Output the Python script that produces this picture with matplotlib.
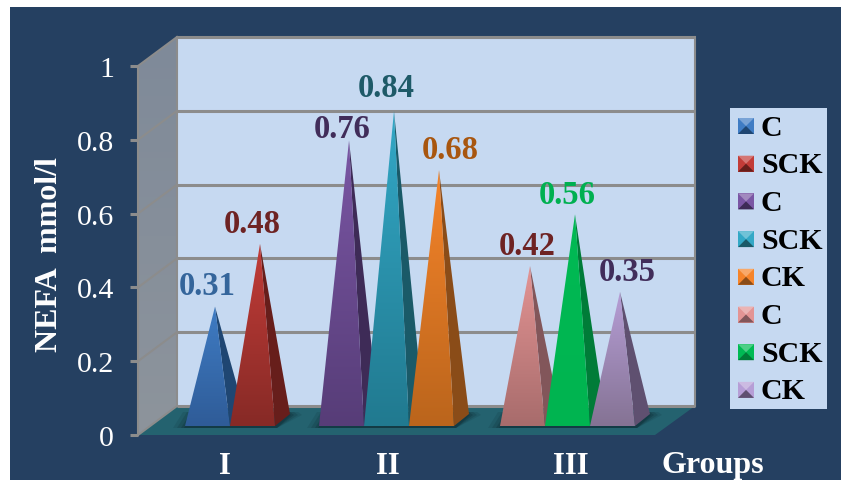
import numpy as np
import matplotlib
matplotlib.use('Agg')
import matplotlib.pyplot as plt
from matplotlib.patches import Polygon, Rectangle
from matplotlib.colors import to_rgb

plt.rcParams['font.family'] = ['Liberation Serif', 'DejaVu Serif']

# chart data
groups = ['I', 'II', 'III']
group_sizes = [2, 3, 3]
series = ['C', 'SCK', 'C', 'SCK', 'CK', 'C', 'SCK', 'CK']
values = [0.31, 0.48, 0.76, 0.84, 0.68, 0.42, 0.56, 0.35]
yticks = [0, 0.2, 0.4, 0.6, 0.8, 1]
ytick_labels = ['0', '0.2', '0.4', '0.6', '0.8', '1']

# face colours per pyramid: top of front, bottom of front, side
top_cols = ['#3f7cc4', '#c23c38', '#7a56a4', '#33a8c6', '#f5842a', '#e39494', '#00ba54', '#b69ed6']
bot_cols = ['#2f5c98', '#872a26', '#573d78', '#217a90', '#bb651c', '#a86c6c', '#00b450', '#857394']
side_cols = ['#1f4672', '#671e1b', '#3e2b57', '#1a5a68', '#8a4c18', '#82565a', '#007c38', '#5f5070']
label_cols = ['#34659b', '#6e2323', '#412d5a', '#1e5a68', '#a8560f', '#6e2323', '#00b050', '#412d5a']

NAVY = '#254061'
WALL = '#c6d9f1'
FLOOR = '#24626f'
GRID = '#8c8c8c'

# y axis: 369 px per unit, zero at y=435 px of the 480 px tall figure
PX = 369.0
DEPTH = 29 / PX       # how far the back wall sits above the front edge
BASE_FRONT = 9 / PX   # front edge of the pyramid bases
BASE_MID = 14 / PX    # centre of the bases, apex heights start here
BASE_BACK = 21 / PX

fig = plt.figure(figsize=(8.41, 4.8), dpi=100, facecolor='white')
ax = fig.add_axes([10 / 841, 0, 831 / 841, 473 / 480])
ax.set_xlim(10, 841)
ax.set_ylim(-45 / PX, 428 / PX)
ax.autoscale(False)
ax.set_facecolor(NAVY)
ax.set_xticks([])
ax.set_yticks([])
for s in ax.spines.values():
    s.set_visible(False)

x_front, x_back, x_right = 138, 177, 695


def grad_poly(pts, c_top, c_bot, zorder):
    # polygon filled with a vertical gradient
    pts = np.array(pts)
    c_top, c_bot = np.array(to_rgb(c_top)), np.array(to_rgb(c_bot))
    t = np.linspace(0, 1, 64)[:, None, None]
    img = c_top[None, None, :] * (1 - t) + c_bot[None, None, :] * t
    im = ax.imshow(img, extent=(pts[:, 0].min(), pts[:, 0].max(), pts[:, 1].min(), pts[:, 1].max()),
                   origin='upper', aspect='auto', zorder=zorder, interpolation='bilinear')
    clip = Polygon(pts, closed=True, transform=ax.transData)
    im.set_clip_path(clip)


# walls and floor
ax.add_patch(Rectangle((x_back, DEPTH), x_right - x_back, 1, fc=WALL, ec='none', zorder=1))
grad_poly([(x_front, 0), (x_back, DEPTH), (x_back, 1 + DEPTH), (x_front, 1)], '#7f8a99', '#8d949c', 1)
ax.add_patch(Polygon([(x_front, 0), (x_back, DEPTH), (x_right, DEPTH), (x_right - 40, 0)],
                     fc=FLOOR, ec='none', zorder=2))

# grid lines, wall lines and ticks
for v in yticks:
    ax.plot([x_back, x_right], [v + DEPTH, v + DEPTH], color=GRID, lw=2.2, zorder=3, solid_capstyle='butt')
    ax.plot([x_front, x_back], [v, v + DEPTH], color=GRID, lw=1.5, zorder=3)
    ax.plot([x_front - 8, x_front], [v, v], color=GRID, lw=2.2, zorder=3, solid_capstyle='butt')
ax.plot([x_front, x_front], [0, 1], color=GRID, lw=1.5, zorder=3)
ax.plot([x_back, x_back], [DEPTH, 1 + DEPTH], color=GRID, lw=1.5, zorder=3)
ax.plot([x_right, x_right], [DEPTH, 1 + DEPTH], color=GRID, lw=1.5, zorder=3)

# tick labels and axis titles
for v, lab in zip(yticks, ytick_labels):
    ax.text(x_front - 24, v - 4 / PX, lab, ha='right', va='center', color='white', fontsize=21.5, zorder=6)
ax.text(50, 0.49, 'NEFA  mmol/l', rotation=90, ha='center', va='center', color='white',
        fontsize=23, fontweight='bold', zorder=6)
ax.text(713, -31 / PX, 'Groups', ha='center', va='center', color='white', fontsize=23,
        fontweight='bold', zorder=6)

# pyramids, drawn left to right so later ones sit over the earlier side faces
group_start = [185, 319, 500]
group_label_x = [225, 388, 571]
label_offset = [(0, 0.054), (0, 0.052), (1, 0.031), (0, 0.060), (19, 0.052), (5, 0.053), (0, 0.051), (15, 0.053)]
W = 45
SIDE = 15
i = 0
for g, start, n, gx in zip(groups, group_start, group_sizes, group_label_x):
    ax.text(gx, -31 / PX, g, ha='center', va='center', color='white', fontsize=22, fontweight='bold', zorder=6)
    # soft shadow on the floor under the group
    x1 = start + n * W
    for grow, a in [(12, 0.14), (8, 0.2), (4, 0.28), (1, 0.35)]:
        ax.add_patch(Polygon([(start - grow, BASE_FRONT - 2 / PX), (x1 + 2, BASE_FRONT - 2 / PX),
                              (x1 + SIDE + grow, BASE_BACK - 1 / PX), (x1 + SIDE + grow - 4, BASE_BACK + 2 / PX),
                              (start + 10 - grow, BASE_BACK + 2 / PX)],
                             fc='#0c2a33', alpha=a, ec='none', zorder=4))
    for k in range(n):
        x0 = start + k * W
        apex = (x0 + W / 2 + SIDE / 2, values[i] + BASE_MID)
        z = 5 + i * 0.01
        ax.add_patch(Polygon([(x0 + W, BASE_FRONT), (x0 + W + SIDE, BASE_BACK), apex],
                             fc=side_cols[i], ec='none', zorder=z))
        grad_poly([(x0, BASE_FRONT), (x0 + W, BASE_FRONT), apex], top_cols[i], bot_cols[i], z + 0.001)
        ax.text(x0 + W / 2 + label_offset[i][0], apex[1] + label_offset[i][1], f'{values[i]:.2f}',
                ha='center', va='center', color=label_cols[i], fontsize=23.5, fontweight='bold', zorder=7)
        i += 1

# legend box with small pyramid swatches
def py_to_v(y):
    return (435 - y) / PX


ax.add_patch(Rectangle((730, py_to_v(409)), 97, 301 / PX, fc=WALL, ec='none', zorder=6))
for j, name in enumerate(series):
    yc = py_to_v(126 + j * 37.7)
    h = 8 / PX
    x0, x1, xm = 738, 754, 746
    top = np.array(to_rgb(top_cols[j]))
    light = top + (1 - top) * 0.3
    ax.add_patch(Rectangle((x0, yc - h), 16, 2 * h, fc=top, ec='none', zorder=7))
    ax.add_patch(Polygon([(x0, yc - h), (x1, yc - h), (xm, yc)], fc=side_cols[j], ec='none', zorder=7.1))
    ax.add_patch(Polygon([(x0, yc + h), (x1, yc + h), (xm, yc)], fc=light, ec='none', zorder=7.1))
    ax.text(761, yc - 2 / PX, name, ha='left', va='center', color='black', fontsize=21.5, fontweight='bold', zorder=7)

fig.savefig('out.png', dpi=100, facecolor='white')
